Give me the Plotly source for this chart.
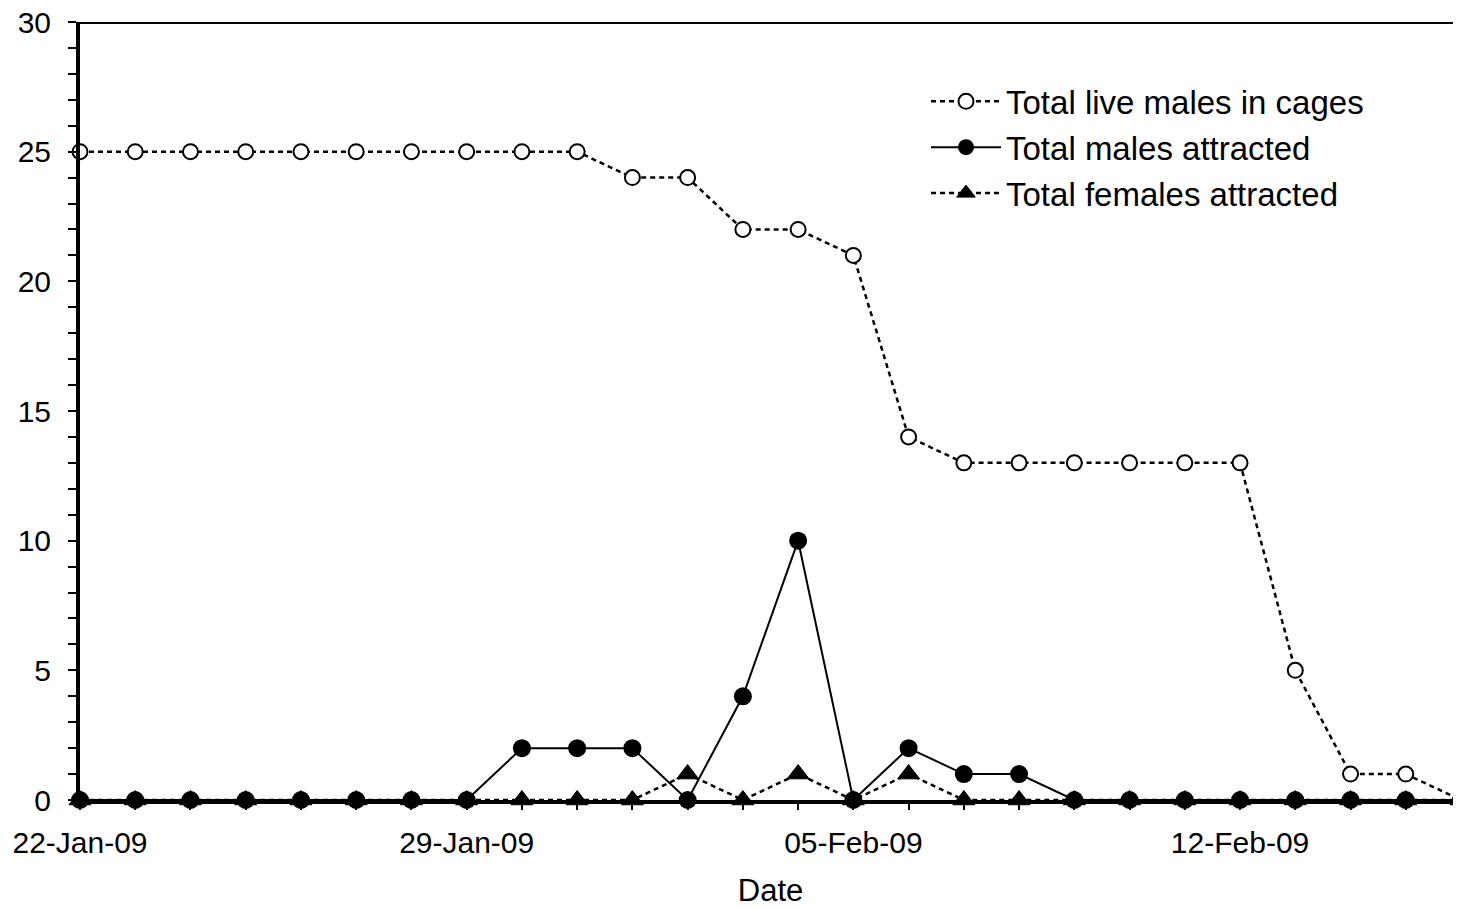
import plotly.graph_objects as go
import pandas as pd

dates = pd.date_range("2009-01-22", "2009-02-16", freq="D").strftime("%Y-%m-%d").tolist()
live_males = [25, 25, 25, 25, 25, 25, 25, 25, 25, 25, 24, 24, 22, 22, 21, 14, 13, 13, 13, 13, 13, 13, 5, 1, 1, 0]
males_attracted = [0, 0, 0, 0, 0, 0, 0, 0, 2, 2, 2, 0, 4, 10, 0, 2, 1, 1, 0, 0, 0, 0, 0, 0, 0, 0]
females_attracted = [0, 0, 0, 0, 0, 0, 0, 0, 0, 0, 0, 1, 0, 1, 0, 1, 0, 0, 0, 0, 0, 0, 0, 0, 0, 0]

FONT = "Liberation Sans, Arial, sans-serif"
DOT = "5px,4px"
fig = go.Figure()
fig.add_trace(go.Scatter(
    x=dates, y=live_males, name="Total live males in cages", mode="lines+markers",
    line=dict(color="black", width=2.5, dash=DOT),
    marker=dict(symbol="circle", size=15, color="white", line=dict(color="black", width=2)),
    cliponaxis=False, legendrank=1))
fig.add_trace(go.Scatter(
    x=dates, y=females_attracted, name="Total females attracted", mode="lines+markers",
    line=dict(color="black", width=2.5, dash=DOT),
    marker=dict(symbol="triangle-up", size=19, color="black", line=dict(color="black", width=1)),
    cliponaxis=False, legendrank=3))
fig.add_trace(go.Scatter(
    x=dates, y=males_attracted, name="Total males attracted", mode="lines+markers",
    line=dict(color="black", width=2),
    marker=dict(symbol="circle", size=18, color="black"),
    cliponaxis=False, legendrank=2))

fig.add_shape(type="line", xref="paper", yref="y", x0=0, x1=1, y0=30, y1=30,
              line=dict(color="black", width=4))

fig.update_layout(
    template="none",
    width=1453, height=900,
    margin=dict(l=72, r=0, t=14, b=108, pad=0),
    paper_bgcolor="white", plot_bgcolor="white",
    font=dict(family=FONT, size=30, color="black"),
    showlegend=True,
    legend=dict(x=0.6126, y=0.934, xanchor="left", yanchor="top", itemwidth=70,
                bgcolor="rgba(0,0,0,0)", borderwidth=0, tracegroupgap=0, font=dict(size=33)),
    xaxis=dict(
        type="date", range=["2009-01-22", "2009-02-16"], automargin=False,
        tickmode="linear", tick0="2009-01-22", dtick=7 * 86400000,
        tickformat="%d-%b-%y", ticks="outside", ticklen=6, tickwidth=2, tickcolor="black",
        ticklabelstandoff=7, ticklabeloverflow="allow",
        minor=dict(dtick=86400000, ticks="outside", ticklen=6, tickwidth=2, tickcolor="black",
                   showgrid=False),
        showline=True, linecolor="black", linewidth=4, showgrid=False, zeroline=False,
        title=dict(text="Date", standoff=29, font=dict(size=31)),
    ),
    yaxis=dict(
        range=[0, 30], automargin=False, tickmode="linear", tick0=0, dtick=5,
        ticks="outside", ticklen=8, tickwidth=2, tickcolor="black",
        ticklabelstandoff=11, ticklabeloverflow="allow",
        minor=dict(dtick=1, ticks="outside", ticklen=8, tickwidth=2, tickcolor="black",
                   showgrid=False),
        showline=True, linecolor="black", linewidth=4, showgrid=False, zeroline=False,
    ),
)

fig.write_html("out.html")
